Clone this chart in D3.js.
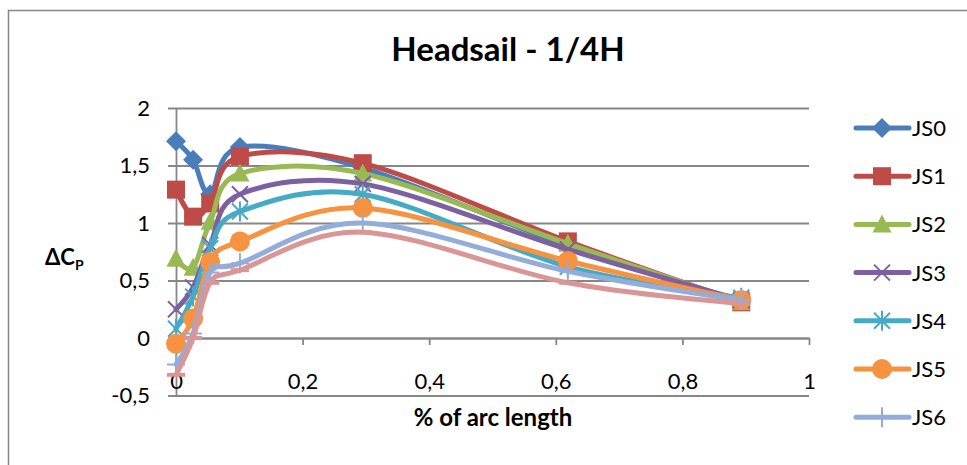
<!DOCTYPE html>
<html>
<head>
<meta charset="utf-8">
<script src="https://cdn.jsdelivr.net/npm/d3@7"></script>
<style>
  html, body { margin: 0; padding: 0; background: #fff; }
  svg { display: block; font-family: Lato, "Open Sans", sans-serif; }
</style>
</head>
<body>
<svg id="chart" width="967" height="465"></svg>
<script>
// Pressure-coefficient difference along the headsail chord at 1/4 height
const arcPositions = [0, 0.027, 0.054, 0.101, 0.295, 0.619, 0.893];
const seriesNames = ["JS0", "JS1", "JS2", "JS3", "JS4", "JS5", "JS6", "JS7"];
const js0 = [1.71, 1.55, 1.25, 1.66, 1.48, 0.80, 0.32];
const js1 = [1.29, 1.055, 1.17, 1.58, 1.52, 0.84, 0.31];
const js2 = [0.69, 0.61, 1.01, 1.43, 1.43, 0.82, 0.31];
const js3 = [0.25, 0.44, 0.81, 1.25, 1.34, 0.77, 0.33];
const js4 = [0.08, 0.36, 0.78, 1.10, 1.25, 0.62, 0.35];
const js5 = [-0.05, 0.17, 0.66, 0.84, 1.13, 0.67, 0.33];
const js6 = [-0.23, 0.04, 0.57, 0.65, 1.00, 0.58, 0.33];
const js7 = [-0.32, 0.00, 0.48, 0.59, 0.92, 0.48, 0.30];
const seriesValues = [js0, js1, js2, js3, js4, js5, js6, js7];
const seriesColors = ["#4A7EBB", "#BE4B48", "#98B954", "#7D60A0", "#46AAC5", "#F69240", "#93ADDA", "#D99694"];
const seriesMarkers = ["diamond", "square", "triangle", "cross", "star", "circle", "plus", "dash"];
const xTicks = [0, 0.2, 0.4, 0.6, 0.8, 1];
const yTicks = [-0.5, 0, 0.5, 1, 1.5, 2];

const W = 967, H = 465;
const svg = d3.select("#chart");
const grey = "#878787";
const fmt = d => String(d).replace(".", ",");

const x = d3.scaleLinear().domain([0, 1]).range([176, 809]);
const y = d3.scaleLinear().domain([-0.5, 2]).range([395.5, 108]);

// chart frame (runs past the right and bottom edges)
svg.append("rect")
  .attr("x", 8.5).attr("y", 10.5).attr("width", 1000).attr("height", 500)
  .attr("fill", "none").attr("stroke", grey).attr("stroke-width", 1.5);

// title
svg.append("text")
  .attr("x", 508).attr("y", 61)
  .attr("text-anchor", "middle")
  .attr("font-size", 33).attr("font-weight", 700)
  .text("Headsail - 1/4H");

// horizontal gridlines + y axis with outward ticks
const yAxis = d3.axisLeft(y).tickValues(yTicks).tickFormat(fmt)
  .tickSize(8).tickPadding(18).tickSizeOuter(0);
const gy = svg.append("g").attr("transform", "translate(176,0)").call(yAxis);
gy.selectAll(".tick line").attr("x2", x(1) - 176).attr("x1", -8);
gy.selectAll(".tick line, .domain").attr("stroke", grey).attr("stroke-width", 1.8);
gy.selectAll("text").attr("font-size", 22).attr("fill", "#000")
  .attr("font-family", "Lato, sans-serif");

// horizontal axis crossing at zero, labels placed low
const xAxis = d3.axisBottom(x).tickValues(xTicks).tickFormat(fmt)
  .tickSize(7).tickPadding(28).tickSizeOuter(0);
const gx = svg.append("g").attr("transform", `translate(0,${y(0)})`).call(xAxis);
gx.selectAll(".tick line, .domain").attr("stroke", grey).attr("stroke-width", 1.8);
gx.selectAll("text").attr("font-size", 22).attr("fill", "#000")
  .attr("font-family", "Lato, sans-serif");

// axis titles
svg.append("text")
  .attr("x", 493).attr("y", 426)
  .attr("text-anchor", "middle")
  .attr("font-size", 24).attr("font-weight", 700)
  .text("% of arc length");

const yTitle = svg.append("text")
  .attr("x", 45).attr("y", 265)
  .attr("font-size", 22).attr("font-weight", 700);
yTitle.append("tspan").text("ΔC");
yTitle.append("tspan").attr("font-size", 14).attr("dy", 5).text("P");

// marker painter
function drawMarker(g, type, color) {
  switch (type) {
    case "diamond":
      g.append("path").attr("d", "M0,-10L10,0L0,10L-10,0Z").attr("fill", color);
      break;
    case "square":
      g.append("rect").attr("x", -9).attr("y", -9).attr("width", 18).attr("height", 18).attr("fill", color);
      break;
    case "triangle":
      g.append("path").attr("d", "M0,-10L9.5,8L-9.5,8Z").attr("fill", color);
      break;
    case "cross":
      g.append("path").attr("d", "M-8,-8L8,8M-8,8L8,-8").attr("stroke", color).attr("stroke-width", 2);
      break;
    case "star":
      g.append("path").attr("d", "M-8,-8L8,8M-8,8L8,-8M0,-10L0,10").attr("stroke", color).attr("stroke-width", 2);
      break;
    case "circle":
      g.append("circle").attr("r", 10).attr("fill", color);
      break;
    case "plus":
      g.append("path").attr("d", "M-9,0L9,0M0,-10L0,10").attr("stroke", color).attr("stroke-width", 2);
      break;
    case "dash":
      g.append("path").attr("d", "M-9,0L9,0").attr("stroke", color).attr("stroke-width", 4);
      break;
  }
}

// smoothed series lines with markers
const line = d3.line()
  .x((d, i) => x(arcPositions[i]))
  .y(d => y(d))
  .curve(d3.curveCardinal.tension(0));

seriesValues.forEach((vals, s) => {
  const g = svg.append("g");
  g.append("path").attr("d", line(vals))
    .attr("fill", "none").attr("stroke", seriesColors[s])
    .attr("stroke-width", 5).attr("stroke-linejoin", "round").attr("stroke-linecap", "round");
  vals.forEach((v, i) => {
    const m = g.append("g").attr("transform", `translate(${x(arcPositions[i])},${y(v)})`);
    drawMarker(m, seriesMarkers[s], seriesColors[s]);
  });
});

// legend: only the entries that fit inside the visible chart box
const legendTop = 128, legendStep = 48.2;
const legend = svg.append("g");
seriesNames.forEach((name, s) => {
  const ly = legendTop + s * legendStep;
  if (ly + 14 > H) return;
  const item = legend.append("g").attr("transform", `translate(0,${ly})`);
  item.append("line").attr("x1", 856).attr("x2", 909)
    .attr("stroke", seriesColors[s]).attr("stroke-width", 5).attr("stroke-linecap", "round");
  const m = item.append("g").attr("transform", "translate(882,0)");
  drawMarker(m, seriesMarkers[s], seriesColors[s]);
  item.append("text").attr("x", 912).attr("y", 0).attr("dy", "0.36em")
    .attr("font-size", 22).text(name);
});
</script>
</body>
</html>
